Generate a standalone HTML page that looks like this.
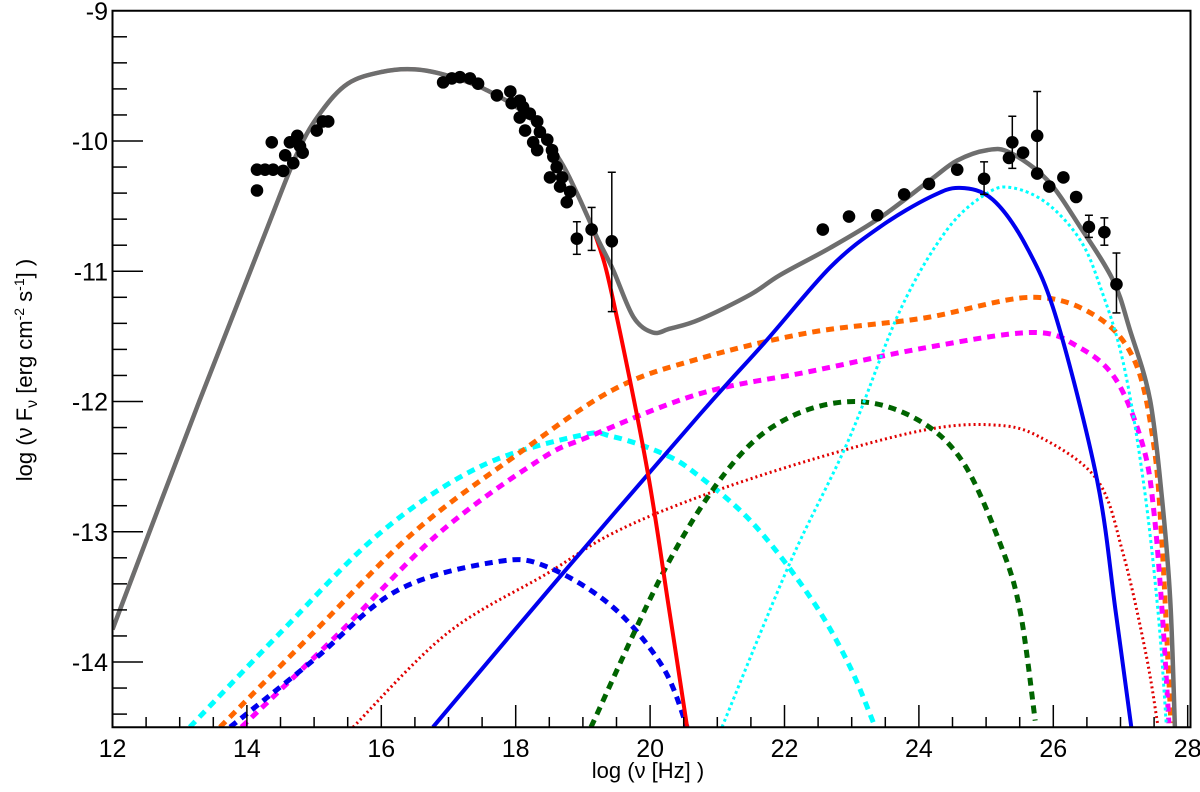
<!DOCTYPE html>
<html><head><meta charset="utf-8"><style>
body{margin:0;background:#fff}
svg{display:block;font-family:"Liberation Sans",sans-serif}
</style></head><body>
<svg id="chart" width="1200" height="792" viewBox="0 0 1200 792" xmlns="http://www.w3.org/2000/svg">
<defs><clipPath id="plotclip"><rect x="112.5" y="10.75" width="1077" height="716.5"/></clipPath></defs>
<g id="curves" clip-path="url(#plotclip)"></g>
<g id="points"></g>
<g id="axes"></g>
<text x="648" y="778" font-size="22" text-anchor="middle">log (ν [Hz] )</text>
<text transform="translate(32,370) rotate(-90)" font-size="22" text-anchor="middle">log (ν F<tspan font-size="16" dy="5">ν</tspan><tspan dy="-5"> [erg cm</tspan><tspan font-size="14" dy="-8">-2</tspan><tspan dy="8"> s</tspan><tspan font-size="14" dy="-8">-1</tspan><tspan dy="8">] )</tspan></text>
</svg>
<script>
const xTicks=[12,14,16,18,20,22,24,26,28];
const yTicks=[-9,-10,-11,-12,-13,-14];
// model curves: [logNu, logNuFnu]
const grayX=[12,13.29,14.3,14.76,15.1,15.5,16.0,16.5,17.0,17.57,18.21,18.66,18.91,19.21,19.45,19.75,20.04,20.3,20.74,21.49,21.93,22.68,23.42,24.17,24.57,25.02,25.36,25.91,26.4,26.89,27.14,27.44,27.62,27.74,27.81];
const grayY=[-13.75,-12,-10.67,-10.08,-9.78,-9.56,-9.47,-9.45,-9.5,-9.61,-9.82,-10.15,-10.4,-10.74,-10.99,-11.35,-11.47,-11.44,-11.37,-11.18,-11.03,-10.82,-10.59,-10.3,-10.15,-10.07,-10.09,-10.3,-10.66,-11.07,-11.45,-11.99,-12.76,-13.52,-14.5];
const redX=[12,13.29,14.3,14.76,15.1,15.5,16.0,16.5,17.0,17.57,18.21,18.66,18.91,19.21,19.45,19.95,20.27,20.55];
const redY=[-13.75,-12,-10.67,-10.08,-9.78,-9.56,-9.47,-9.45,-9.5,-9.61,-9.82,-10.15,-10.4,-10.76,-11.22,-12.5,-13.55,-14.5];
const blueX=[16.77,18.7,20.74,21.7,22.68,23.42,24.17,24.61,25.1,25.61,26.05,26.65,26.93,27.16];
const blueY=[-14.5,-13.32,-12.1,-11.55,-10.97,-10.66,-10.43,-10.36,-10.45,-10.82,-11.37,-12.6,-13.62,-14.5];
const cyanDashX=[13.15,14.49,15.98,17.47,18.96,19.45,20.19,20.67,21.52,22.38,22.95,23.35];
const cyanDashY=[-14.5,-13.78,-13.01,-12.5,-12.26,-12.27,-12.4,-12.55,-12.93,-13.5,-14.01,-14.5];
const orangeX=[13.6,14.98,16.47,17.96,19.45,20.74,22.38,24.07,25.68,26.65,27.22,27.5,27.62,27.72,27.75];
const orangeY=[-14.5,-13.78,-13.01,-12.43,-11.91,-11.67,-11.47,-11.36,-11.2,-11.35,-11.7,-12.35,-13.12,-14.14,-14.47];
const magentaX=[13.92,15.37,16.86,18.35,19.09,20.74,22.38,24.07,25.68,26.37,26.93,27.34,27.5,27.62,27.72];
const magentaY=[-14.5,-13.78,-13.01,-12.45,-12.27,-11.94,-11.77,-11.59,-11.47,-11.58,-11.83,-12.35,-12.86,-13.62,-14.47];
const blueDashX=[13.75,14.98,16.24,17.72,18.47,19.45,20.19,20.55];
const blueDashY=[-14.5,-13.99,-13.45,-13.23,-13.27,-13.58,-14.04,-14.5];
const redDotX=[15.58,16.98,18.47,19.45,20.74,22.38,24.07,25.1,25.79,26.65,27.04,27.38,27.55];
const redDotY=[-14.5,-13.78,-13.32,-13.01,-12.73,-12.45,-12.22,-12.18,-12.27,-12.6,-13.17,-13.94,-14.47];
const greenX=[19.12,20.27,21.24,22.08,23.07,23.98,24.66,25.23,25.51,25.73];
const greenY=[-14.5,-13.24,-12.47,-12.12,-12.0,-12.14,-12.47,-13.12,-13.62,-14.45];
const cyanDotX=[21.07,22.08,22.95,23.72,24.42,25.02,25.4,25.91,26.4,26.7,27.04,27.34,27.56,27.68];
const cyanDotY=[-14.5,-13.24,-12.3,-11.3,-10.68,-10.4,-10.36,-10.48,-10.76,-11.12,-11.7,-12.61,-13.62,-14.47];
// observed data
const obsX=[14.15,14.15,14.27,14.39,14.54,14.37,14.57,14.64,14.75,14.79,14.83,14.69,15.04,15.13,15.21,16.92,17.05,17.17,17.32,17.44,17.72,17.92,17.94,18.06,18.11,18.06,18.21,18.14,18.32,18.36,18.26,18.32,18.47,18.54,18.56,18.61,18.51,18.69,18.66,18.81,18.76,18.91,19.13,19.43,22.57,22.96,23.38,23.78,24.15,24.57,24.97,25.39,25.34,25.55,25.76,25.76,25.94,26.15,26.34,26.53,26.76,26.94];
const obsY=[-10.38,-10.22,-10.22,-10.22,-10.23,-10.01,-10.11,-10.01,-9.96,-10.04,-10.09,-10.17,-9.92,-9.85,-9.85,-9.55,-9.52,-9.51,-9.52,-9.56,-9.65,-9.62,-9.71,-9.69,-9.74,-9.82,-9.79,-9.92,-9.85,-9.93,-10.01,-10.07,-9.99,-10.07,-10.12,-10.2,-10.28,-10.28,-10.35,-10.39,-10.47,-10.75,-10.68,-10.77,-10.68,-10.58,-10.57,-10.41,-10.33,-10.22,-10.29,-10.01,-10.13,-10.09,-9.96,-10.25,-10.35,-10.28,-10.43,-10.66,-10.7,-11.1];
const errIdx=[41,42,43,49,50,51,54,59,60,61];
const errHi=[-10.62,-10.51,-10.24,-10.19,-10.16,-9.81,-9.62,-10.57,-10.59,-10.86];
const errLo=[-10.87,-10.84,-11.31,-10.25,-10.41,-10.21,-10.28,-10.74,-10.8,-11.32];

const NS='http://www.w3.org/2000/svg';
const X0=112.5,PX=67.2,Y0=10.75,PY=130.25;
function sx(v){return X0+(v-12)*PX;}
function sy(v){return Y0+(-9-v)*PY;}
function mk(tag,attrs,parent){const e=document.createElementNS(NS,tag);for(const k in attrs)e.setAttribute(k,attrs[k]);parent.appendChild(e);return e;}
function pathD(xs,ys){
  const p=xs.map((x,i)=>[sx(x),sy(ys[i])]);
  let d='M'+p[0][0].toFixed(1)+','+p[0][1].toFixed(1);
  for(let i=0;i<p.length-1;i++){
    const a=p[Math.max(0,i-1)],b=p[i],c=p[i+1],e=p[Math.min(p.length-1,i+2)];
    const c1=[b[0]+(c[0]-a[0])/6,b[1]+(c[1]-a[1])/6],c2=[c[0]-(e[0]-b[0])/6,c[1]-(e[1]-b[1])/6];
    d+=' C'+c1[0].toFixed(1)+','+c1[1].toFixed(1)+' '+c2[0].toFixed(1)+','+c2[1].toFixed(1)+' '+c[0].toFixed(1)+','+c[1].toFixed(1);
  }
  return d;
}
const cg=document.getElementById('curves');
function curve(name,xs,ys,color,w,dash){
  const el=mk('path',{d:pathD(xs,ys),fill:'none',stroke:color,'stroke-width':w},cg);
  if(dash)el.setAttribute('stroke-dasharray',dash);
  
  
}
curve('curve-red-dotted',redDotX,redDotY,'#e00000',3,'2,3');
curve('curve-cyan-dashed',cyanDashX,cyanDashY,'#00ffff',5,'8,6');
curve('curve-orange-dashed',orangeX,orangeY,'#ff6600',5,'8,6');
curve('curve-magenta-dashed',magentaX,magentaY,'#ff00ff',5,'8,6');
curve('curve-blue-dashed',blueDashX,blueDashY,'#0000ee',5,'8,6');
curve('curve-green-dashed',greenX,greenY,'#006400',5,'8,6');
curve('curve-cyan-dotted',cyanDotX,cyanDotY,'#00ffff',3,'3,3');
curve('curve-blue-solid',blueX,blueY,'#0000ee',4);
curve('curve-red-synchrotron',redX,redY,'#ff0000',4);
curve('curve-total-gray',grayX,grayY,'#6e6e6e',4.5);

const pg=document.getElementById('points');
errIdx.forEach((idx,k)=>{
  const x=sx(obsX[idx]),y1=sy(errHi[k]),y2=sy(errLo[k]);
  const g=mk('g',{stroke:'#000','stroke-width':1.5},pg);
  
  
  mk('line',{x1:x,y1:y1,x2:x,y2:y2},g);
  mk('line',{x1:x-4,y1:y1,x2:x+4,y2:y1},g);
  mk('line',{x1:x-4,y1:y2,x2:x+4,y2:y2},g);
});
obsX.forEach((v,i)=>{
  const c=mk('circle',{cx:sx(v),cy:sy(obsY[i]),r:6.3,fill:'#000'},pg);
  
  
});

const ag=document.getElementById('axes');
const fr=mk('rect',{x:112.5,y:10.75,width:1078,height:716.5,fill:'none',stroke:'#000','stroke-width':2},ag);


for(let v=12;v<=28.001;v+=0.5){
  const x=sx(v),major=Math.abs(v/2-Math.round(v/2))<1e-6;
  mk('line',{x1:x,y1:727,x2:x,y2:major?705:717,stroke:'#000','stroke-width':1.5},ag);
}
for(let v=-14.4;v<=-9.001;v+=0.2){
  const y=sy(v),major=Math.abs(v-Math.round(v))<1e-6;
  mk('line',{x1:112.5,y1:y,x2:major?143:127,y2:y,stroke:'#000','stroke-width':1.5},ag);
}
xTicks.forEach(v=>{
  const t=mk('text',{x:sx(v),y:757,'font-size':25,'text-anchor':'middle'},ag);
  t.textContent=v;
  
  
});
yTicks.forEach(v=>{
  const t=mk('text',{x:108,y:sy(v)+9,'font-size':25,'text-anchor':'end'},ag);
  t.textContent=v;
  
  
});
</script>
</body></html>
